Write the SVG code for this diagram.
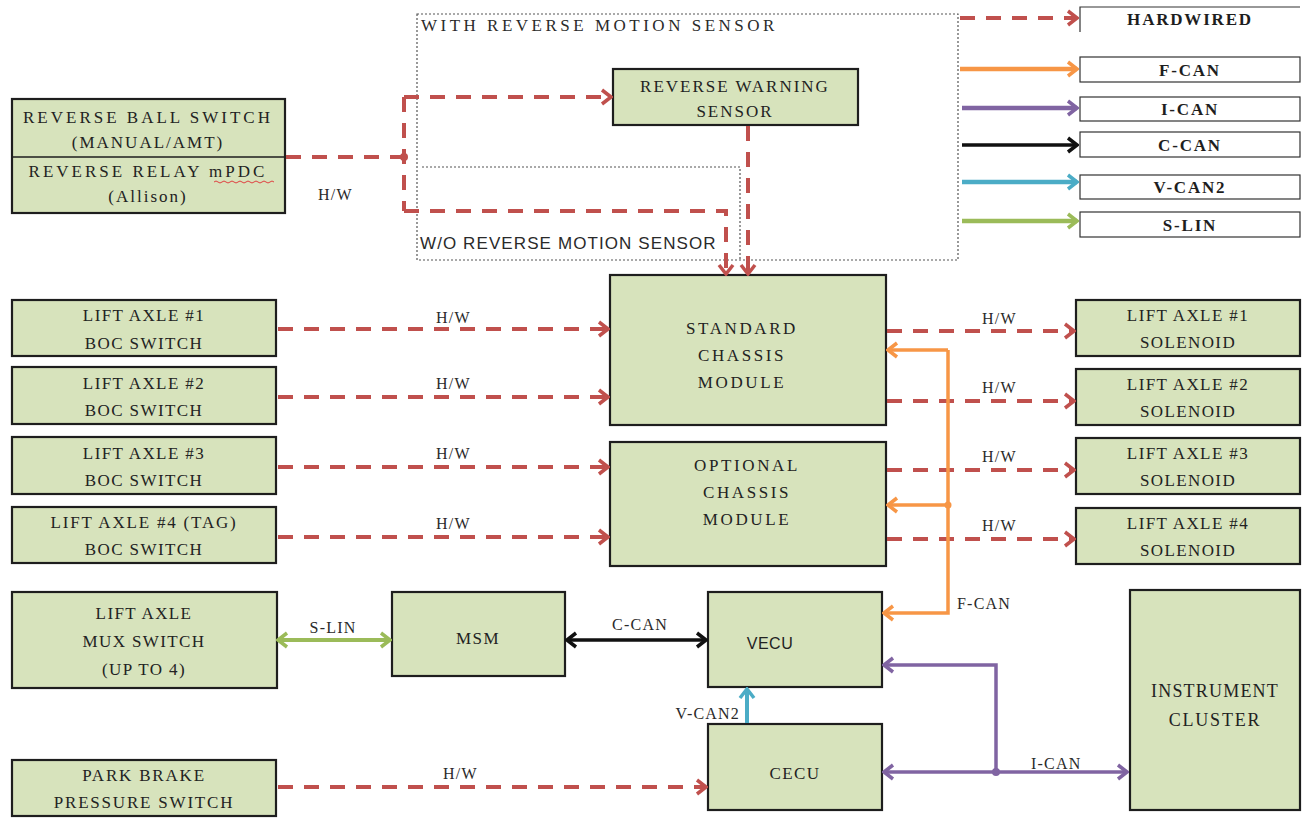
<svg xmlns="http://www.w3.org/2000/svg" width="1302" height="821" viewBox="0 0 1302 821">
<style>
.box{fill:#d7e3bc;stroke:#1e1e1e;stroke-width:2.2}
.t{font-family:"Liberation Serif","Times New Roman",serif;font-size:17px;fill:#222;text-anchor:middle;letter-spacing:1.4px}
.lbl{font-family:"Liberation Serif","Times New Roman",serif;font-size:16px;fill:#2a2a2a;letter-spacing:1.2px}
.leg{font-family:"Liberation Serif","Times New Roman",serif;font-size:17px;font-weight:bold;fill:#1e1e1e;text-anchor:middle;letter-spacing:1.8px}
.hw{fill:none;stroke:#c0504d;stroke-width:4;stroke-dasharray:15 11}
.dot{fill:none;stroke:#555;stroke-width:1.2;stroke-dasharray:2 2}
.lbox{fill:#fff;stroke:#333;stroke-width:1.2}
</style>
<defs>
<marker id="ar" markerUnits="userSpaceOnUse" viewBox="0 0 14 18" refX="12" refY="9" markerWidth="14" markerHeight="18" orient="auto-start-reverse"><path d="M3,2 L12,9 L3,16" fill="none" stroke="#c0504d" stroke-width="3.5"/></marker>
<marker id="ao" markerUnits="userSpaceOnUse" viewBox="0 0 14 18" refX="12" refY="9" markerWidth="14" markerHeight="18" orient="auto-start-reverse"><path d="M3,2 L12,9 L3,16" fill="none" stroke="#f79646" stroke-width="3.5"/></marker>
<marker id="ap" markerUnits="userSpaceOnUse" viewBox="0 0 14 18" refX="12" refY="9" markerWidth="14" markerHeight="18" orient="auto-start-reverse"><path d="M3,2 L12,9 L3,16" fill="none" stroke="#8064a2" stroke-width="3.5"/></marker>
<marker id="ak" markerUnits="userSpaceOnUse" viewBox="0 0 14 18" refX="12" refY="9" markerWidth="14" markerHeight="18" orient="auto-start-reverse"><path d="M3,2 L12,9 L3,16" fill="none" stroke="#111" stroke-width="3.5"/></marker>
<marker id="ab" markerUnits="userSpaceOnUse" viewBox="0 0 14 18" refX="12" refY="9" markerWidth="14" markerHeight="18" orient="auto-start-reverse"><path d="M3,2 L12,9 L3,16" fill="none" stroke="#4bacc6" stroke-width="3.5"/></marker>
<marker id="ag" markerUnits="userSpaceOnUse" viewBox="0 0 14 18" refX="12" refY="9" markerWidth="14" markerHeight="18" orient="auto-start-reverse"><path d="M3,2 L12,9 L3,16" fill="none" stroke="#9bbb59" stroke-width="3.5"/></marker>
</defs>

<!-- dotted region boxes -->
<g id="region-with">
<rect x="417" y="14" width="541" height="246" class="dot"/>
<text x="421" y="31" class="lbl" style="font-size:17px;letter-spacing:3.5px">WITH REVERSE MOTION SENSOR</text>
</g>
<g id="region-without">
<path d="M422,167 L740,167 L740,260" class="dot"/>
<text x="420" y="249" style="font-family:'Liberation Sans',Arial,sans-serif;font-size:17px;letter-spacing:1.1px;fill:#2a2a2a">W/O REVERSE MOTION SENSOR</text>
</g>

<!-- legend -->
<g id="legend">
<path d="M960,18 L1077,18" class="hw" marker-end="url(#ar)"/>
<path d="M1080,32 L1080,7 L1300,7" fill="none" stroke="#333" stroke-width="1.2"/>
<text x="1190" y="25" class="leg">HARDWIRED</text>
<path d="M960,69 L1077,69" fill="none" stroke="#f79646" stroke-width="4.5" marker-end="url(#ao)"/>
<rect x="1080" y="57" width="220" height="25" class="lbox"/>
<text x="1190" y="76" class="leg">F-CAN</text>
<path d="M962,108 L1077,108" fill="none" stroke="#8064a2" stroke-width="4.5" marker-end="url(#ap)"/>
<rect x="1080" y="97" width="220" height="24" class="lbox"/>
<text x="1190" y="115" class="leg">I-CAN</text>
<path d="M962,145 L1077,145" fill="none" stroke="#111" stroke-width="3.5" marker-end="url(#ak)"/>
<rect x="1080" y="132" width="220" height="25" class="lbox"/>
<text x="1190" y="151" class="leg">C-CAN</text>
<path d="M962,182 L1077,182" fill="none" stroke="#4bacc6" stroke-width="4.5" marker-end="url(#ab)"/>
<rect x="1080" y="175" width="220" height="24" class="lbox"/>
<text x="1190" y="193" class="leg">V-CAN2</text>
<path d="M962,221 L1077,221" fill="none" stroke="#9bbb59" stroke-width="4.5" marker-end="url(#ag)"/>
<rect x="1080" y="212" width="220" height="25" class="lbox"/>
<text x="1190" y="231" class="leg">S-LIN</text>
</g>

<!-- nodes -->
<g id="reverse-switch">
<rect x="12" y="99" width="273" height="114" class="box"/>
<line x1="12" y1="157" x2="285" y2="157" stroke="#1e1e1e" stroke-width="1.5"/>
<text x="148" y="123" class="t" style="letter-spacing:3px">REVERSE BALL SWITCH</text>
<text x="148" y="148" class="t" style="letter-spacing:2px">(MANUAL/AMT)</text>
<text x="148" y="177" class="t" style="letter-spacing:3px">REVERSE RELAY mPDC</text>
<path d="M214,182 q2,-2 4,0 t4,0 t4,0 t4,0 t4,0 t4,0 t4,0 t4,0 t4,0 t4,0 t4,0 t4,0 t4,0 t4,0 t4,0" fill="none" stroke="#e04040" stroke-width="1"/>
<text x="148" y="202" class="t" style="letter-spacing:2px">(Allison)</text>
</g>
<g id="reverse-warning-sensor">
<rect x="613" y="69" width="245" height="56" class="box"/>
<text x="735" y="92" class="t" style="letter-spacing:2px">REVERSE WARNING</text>
<text x="735" y="117" class="t" style="letter-spacing:2px">SENSOR</text>
</g>
<g id="lift1-boc">
<rect x="12" y="300" width="264" height="56" class="box"/>
<text x="144" y="321" class="t">LIFT AXLE #1</text>
<text x="144" y="349" class="t">BOC SWITCH</text>
</g>
<g id="lift2-boc">
<rect x="12" y="367" width="264" height="57" class="box"/>
<text x="144" y="389" class="t">LIFT AXLE #2</text>
<text x="144" y="416" class="t">BOC SWITCH</text>
</g>
<g id="lift3-boc">
<rect x="12" y="437" width="264" height="57" class="box"/>
<text x="144" y="459" class="t">LIFT AXLE #3</text>
<text x="144" y="486" class="t">BOC SWITCH</text>
</g>
<g id="lift4-boc">
<rect x="12" y="507" width="264" height="56" class="box"/>
<text x="144" y="528" class="t" style="letter-spacing:1.8px">LIFT AXLE #4 (TAG)</text>
<text x="144" y="555" class="t">BOC SWITCH</text>
</g>
<g id="standard-chassis-module">
<rect x="610" y="275" width="276" height="150" class="box"/>
<text x="742" y="334" class="t" style="letter-spacing:2.6px">STANDARD</text>
<text x="742" y="361" class="t" style="letter-spacing:2.6px">CHASSIS</text>
<text x="742" y="388" class="t" style="letter-spacing:2.6px">MODULE</text>
</g>
<g id="optional-chassis-module">
<rect x="610" y="442" width="276" height="124" class="box"/>
<text x="747" y="471" class="t" style="letter-spacing:2.6px">OPTIONAL</text>
<text x="747" y="498" class="t" style="letter-spacing:2.6px">CHASSIS</text>
<text x="747" y="525" class="t" style="letter-spacing:2.6px">MODULE</text>
</g>
<g id="lift1-sol">
<rect x="1076" y="300" width="224" height="56" class="box"/>
<text x="1188" y="321" class="t">LIFT AXLE #1</text>
<text x="1188" y="348" class="t">SOLENOID</text>
</g>
<g id="lift2-sol">
<rect x="1076" y="369" width="224" height="56" class="box"/>
<text x="1188" y="390" class="t">LIFT AXLE #2</text>
<text x="1188" y="417" class="t">SOLENOID</text>
</g>
<g id="lift3-sol">
<rect x="1076" y="438" width="224" height="56" class="box"/>
<text x="1188" y="459" class="t">LIFT AXLE #3</text>
<text x="1188" y="486" class="t">SOLENOID</text>
</g>
<g id="lift4-sol">
<rect x="1076" y="508" width="224" height="56" class="box"/>
<text x="1188" y="529" class="t">LIFT AXLE #4</text>
<text x="1188" y="556" class="t">SOLENOID</text>
</g>
<g id="mux-switch">
<rect x="12" y="592" width="265" height="96" class="box"/>
<text x="144" y="619" class="t">LIFT AXLE</text>
<text x="144" y="647" class="t">MUX SWITCH</text>
<text x="144" y="675" class="t">(UP TO 4)</text>
</g>
<g id="msm">
<rect x="392" y="592" width="173" height="84" class="box"/>
<text x="478" y="644" class="t">MSM</text>
</g>
<g id="vecu">
<rect x="708" y="592" width="174" height="95" class="box"/>
<text x="770" y="649" class="t" style="font-family:'Liberation Sans',Arial,sans-serif;font-size:16px;letter-spacing:0.5px">VECU</text>
</g>
<g id="cecu">
<rect x="708" y="724" width="174" height="86" class="box"/>
<text x="795" y="779" class="t">CECU</text>
</g>
<g id="instrument-cluster">
<rect x="1130" y="590" width="170" height="220" class="box"/>
<text x="1215" y="697" class="t" style="font-size:18px;letter-spacing:1.2px">INSTRUMENT</text>
<text x="1215" y="726" class="t" style="font-size:18px;letter-spacing:1.8px">CLUSTER</text>
</g>
<g id="park-brake">
<rect x="12" y="760" width="264" height="56" class="box"/>
<text x="144" y="781" class="t" style="letter-spacing:1.8px">PARK BRAKE</text>
<text x="144" y="808" class="t" style="letter-spacing:1.8px">PRESSURE SWITCH</text>
</g>

<!-- connectors -->
<g id="connectors">
<path d="M286,157 L404,157" class="hw"/>
<path d="M404,97 L404,211" class="hw"/>
<circle cx="404" cy="157" r="4" fill="#c0504d"/>
<path d="M404,97 L611,97" class="hw" marker-end="url(#ar)"/>
<path d="M404,211 L726,211 L726,274" class="hw" marker-end="url(#ar)"/>
<path d="M748,126 L748,274" class="hw" marker-end="url(#ar)"/>
<text x="318" y="200" class="lbl">H/W</text>

<path d="M278,329 L608,329" class="hw" marker-end="url(#ar)"/>
<path d="M278,397 L608,397" class="hw" marker-end="url(#ar)"/>
<path d="M278,467 L608,467" class="hw" marker-end="url(#ar)"/>
<path d="M278,537 L608,537" class="hw" marker-end="url(#ar)"/>
<text x="436" y="323" class="lbl">H/W</text>
<text x="436" y="389" class="lbl">H/W</text>
<text x="436" y="459" class="lbl">H/W</text>
<text x="436" y="529" class="lbl">H/W</text>

<path d="M887,331 L1074,331" class="hw" marker-end="url(#ar)"/>
<path d="M887,401 L1074,401" class="hw" marker-end="url(#ar)"/>
<path d="M887,470 L1074,470" class="hw" marker-end="url(#ar)"/>
<path d="M887,539 L1074,539" class="hw" marker-end="url(#ar)"/>
<text x="982" y="324" class="lbl">H/W</text>
<text x="982" y="393" class="lbl">H/W</text>
<text x="982" y="462" class="lbl">H/W</text>
<text x="982" y="531" class="lbl">H/W</text>

<path d="M948,350 L948,613 L884,613" fill="none" stroke="#f79646" stroke-width="3.5" marker-end="url(#ao)"/>
<path d="M948,350 L888,350" fill="none" stroke="#f79646" stroke-width="3.5" marker-end="url(#ao)"/>
<path d="M948,505 L888,505" fill="none" stroke="#f79646" stroke-width="3.5" marker-end="url(#ao)"/>
<circle cx="948" cy="505" r="3.5" fill="#f79646"/>
<text x="957" y="609" class="lbl">F-CAN</text>

<path d="M278,640 L390,640" fill="none" stroke="#9bbb59" stroke-width="4" marker-start="url(#ag)" marker-end="url(#ag)"/>
<text x="333" y="633" class="lbl" text-anchor="middle">S-LIN</text>
<path d="M567,640 L706,640" fill="none" stroke="#111" stroke-width="3.5" marker-start="url(#ak)" marker-end="url(#ak)"/>
<text x="640" y="630" class="lbl" text-anchor="middle">C-CAN</text>

<path d="M747,723 L747,689" fill="none" stroke="#4bacc6" stroke-width="4" marker-end="url(#ab)"/>
<text x="740" y="719" class="lbl" text-anchor="end">V-CAN2</text>

<path d="M884,772 L1127,772" fill="none" stroke="#8064a2" stroke-width="3.5" marker-start="url(#ap)" marker-end="url(#ap)"/>
<path d="M996,772 L996,665 L884,665" fill="none" stroke="#8064a2" stroke-width="3.5" marker-end="url(#ap)"/>
<circle cx="996" cy="772" r="4" fill="#8064a2"/>
<text x="1031" y="769" class="lbl">I-CAN</text>

<path d="M278,787 L706,787" class="hw" marker-end="url(#ar)"/>
<text x="443" y="779" class="lbl">H/W</text>
</g>
</svg>
